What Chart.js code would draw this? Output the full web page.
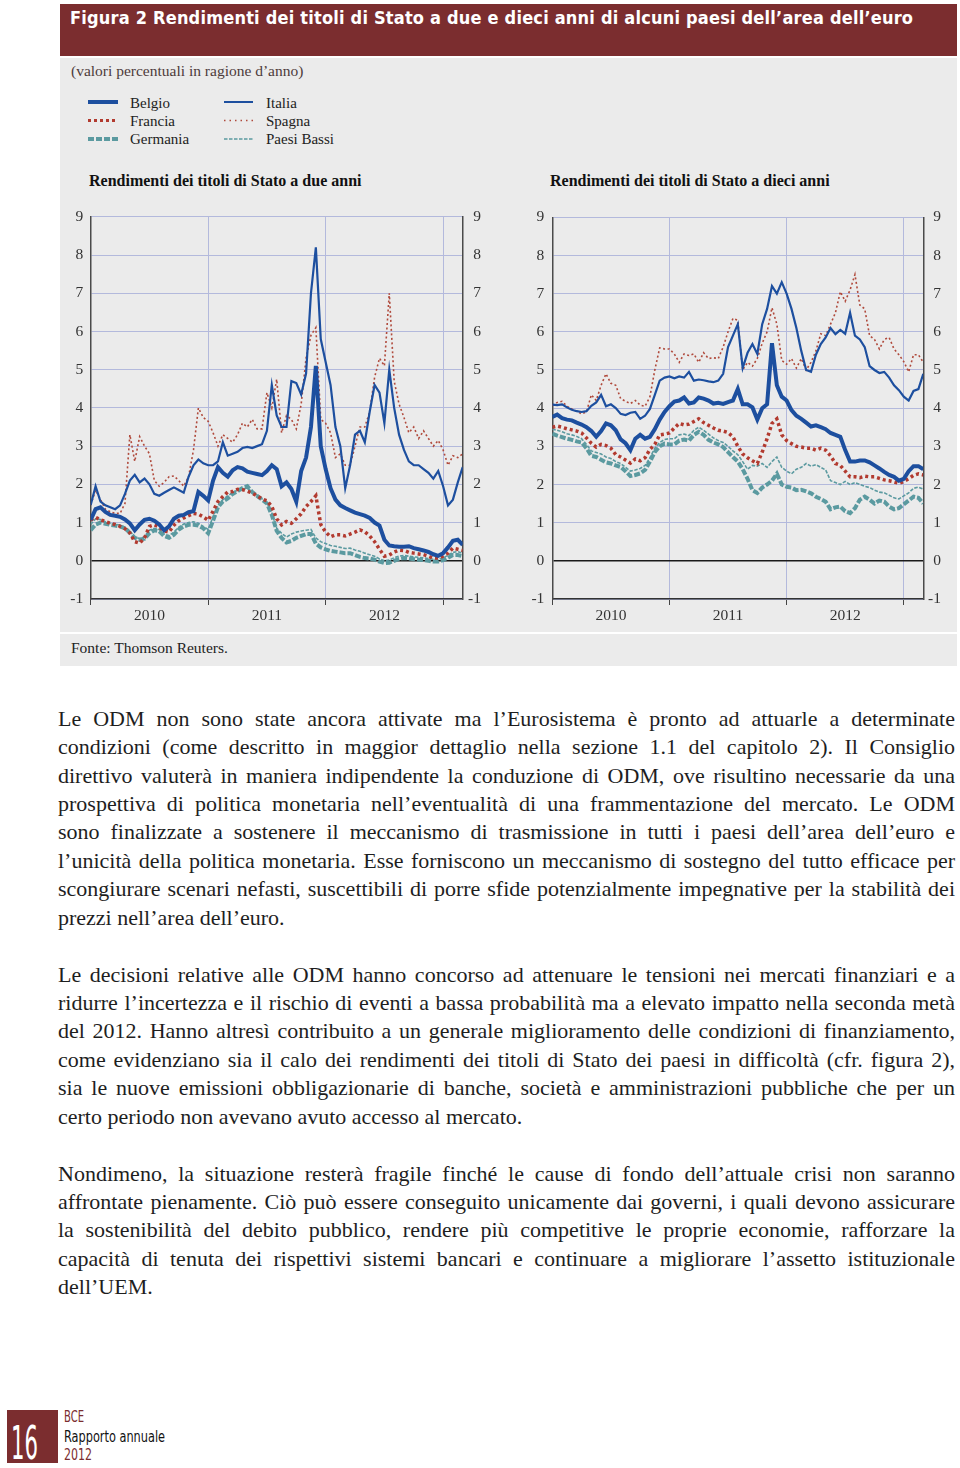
<!DOCTYPE html>
<html lang="it">
<head>
<meta charset="utf-8">
<script src="https://cdn.jsdelivr.net/npm/chart.js@4.4.1/dist/chart.umd.min.js"></script>
<style>
  body { margin: 0; width: 960px; height: 1468px; background: #fff; position: relative; overflow: hidden;
         font-family: 'Liberation Serif', 'Times New Roman', serif; color: #222; }
  .abs { position: absolute; }
  #bar { left: 60px; top: 4px; width: 897px; height: 52px; background: #7b2d2f; }
  #title { left: 70px; top: 6px; color: #fff; font-family: 'DejaVu Sans Condensed', 'DejaVu Sans', sans-serif;
           font-stretch: condensed; font-weight: bold; font-size: 18px; line-height: 24px; white-space: nowrap; }
  #panel { left: 60px; top: 58px; width: 897px; height: 608px; background: #ebebeb; }
  #sep { left: 60px; top: 632px; width: 897px; height: 2px; background: #fff; }
  #sub { left: 71px; top: 61px; font-size: 15.5px; line-height: 20px; color: #4e3b3b; white-space: nowrap; }
  .leg { font-size: 15px; line-height: 18px; white-space: nowrap; color: #222; }
  .ctitle { font-size: 16px; font-weight: bold; line-height: 20px; white-space: nowrap; color: #111; }
  #fonte { left: 71px; top: 638px; font-size: 15.5px; line-height: 20px; color: #222; white-space: nowrap; }
  #body { left: 58px; top: 704.8px; width: 897px; font-size: 22px; line-height: 28.43px; color: #1e1e1e; }
  .ln { white-space: nowrap; height: 28.43px; }
  .gap { height: 28.43px; }
  #pg { left: 7px; top: 1410px; width: 51px; height: 53px; background: #7b2d2f; overflow: hidden; }
  #pgnum { left: 4px; top: 8px; color: #fff; font-family: 'DejaVu Sans Condensed', 'DejaVu Sans', sans-serif;
           font-stretch: condensed; font-size: 46px; line-height: 50px; white-space: nowrap; transform-origin: left top; }
  .foot { font-family: 'DejaVu Sans Condensed', 'DejaVu Sans', sans-serif; font-stretch: condensed;
          font-size: 16px; line-height: 18px; white-space: nowrap; transform-origin: left top; }
  canvas { position: absolute; }
</style>
</head>
<body>
<div id="bar" class="abs"></div>
<div id="title" class="abs">Figura 2 Rendimenti dei titoli di Stato a due e dieci anni di alcuni paesi dell’area dell’euro</div>
<div id="panel" class="abs"></div>
<div id="sep" class="abs"></div>
<div id="sub" class="abs">(valori percentuali in ragione d’anno)</div>

<svg class="abs" style="left:0;top:0" width="400" height="160">
  <line x1="88" y1="102" x2="118" y2="102" stroke="#1d4f9f" stroke-width="4"/>
  <line x1="88" y1="120.5" x2="118" y2="120.5" stroke="#b23a2f" stroke-width="3" stroke-dasharray="3 3"/>
  <line x1="88" y1="139" x2="118" y2="139" stroke="#5b9aa0" stroke-width="4" stroke-dasharray="6 2"/>
  <line x1="224" y1="102" x2="253" y2="102" stroke="#1d4f9f" stroke-width="2"/>
  <line x1="224" y1="120.5" x2="253" y2="120.5" stroke="#b04a3c" stroke-width="1.5" stroke-dasharray="1.5 4"/>
  <line x1="224" y1="139" x2="253" y2="139" stroke="#5b9aa0" stroke-width="1.5" stroke-dasharray="3.5 1.5"/>
</svg>
<div class="abs leg" style="left:130px;top:94px">Belgio</div>
<div class="abs leg" style="left:130px;top:112px">Francia</div>
<div class="abs leg" style="left:130px;top:130px">Germania</div>
<div class="abs leg" style="left:266px;top:94px">Italia</div>
<div class="abs leg" style="left:266px;top:112px">Spagna</div>
<div class="abs leg" style="left:266px;top:130px">Paesi Bassi</div>

<div class="abs ctitle" style="left:89px;top:171px">Rendimenti dei titoli di Stato a due anni</div>
<div class="abs ctitle" style="left:550px;top:171px">Rendimenti dei titoli di Stato a dieci anni</div>

<canvas id="chart2y" width="440" height="430" style="left:60px;top:200px;width:440px;height:430px"></canvas>
<canvas id="chart10y" width="440" height="430" style="left:520px;top:200px;width:440px;height:430px"></canvas>

<div id="fonte" class="abs">Fonte: Thomson Reuters.</div>

<div id="body" class="abs">
  <div class="ln"><span>Le ODM non sono state ancora attivate ma l’Eurosistema è pronto ad attuarle a determinate</span></div>
  <div class="ln"><span>condizioni (come descritto in maggior dettaglio nella sezione 1.1 del capitolo 2). Il Consiglio</span></div>
  <div class="ln"><span>direttivo valuterà in maniera indipendente la conduzione di ODM, ove risultino necessarie da una</span></div>
  <div class="ln"><span>prospettiva di politica monetaria nell’eventualità di una frammentazione del mercato. Le ODM</span></div>
  <div class="ln"><span>sono finalizzate a sostenere il meccanismo di trasmissione in tutti i paesi dell’area dell’euro e</span></div>
  <div class="ln"><span>l’unicità della politica monetaria. Esse forniscono un meccanismo di sostegno del tutto efficace per</span></div>
  <div class="ln"><span>scongiurare scenari nefasti, suscettibili di porre sfide potenzialmente impegnative per la stabilità dei</span></div>
  <div class="ln last"><span>prezzi nell’area dell’euro.</span></div>
  <div class="gap"></div>
  <div class="ln"><span>Le decisioni relative alle ODM hanno concorso ad attenuare le tensioni nei mercati finanziari e a</span></div>
  <div class="ln"><span>ridurre l’incertezza e il rischio di eventi a bassa probabilità ma a elevato impatto nella seconda metà</span></div>
  <div class="ln"><span>del 2012. Hanno altresì contribuito a un generale miglioramento delle condizioni di finanziamento,</span></div>
  <div class="ln"><span>come evidenziano sia il calo dei rendimenti dei titoli di Stato dei paesi in difficoltà (cfr. figura 2),</span></div>
  <div class="ln"><span>sia le nuove emissioni obbligazionarie di banche, società e amministrazioni pubbliche che per un</span></div>
  <div class="ln last"><span>certo periodo non avevano avuto accesso al mercato.</span></div>
  <div class="gap"></div>
  <div class="ln"><span>Nondimeno, la situazione resterà fragile finché le cause di fondo dell’attuale crisi non saranno</span></div>
  <div class="ln"><span>affrontate pienamente. Ciò può essere conseguito unicamente dai governi, i quali devono assicurare</span></div>
  <div class="ln"><span>la sostenibilità del debito pubblico, rendere più competitive le proprie economie, rafforzare la</span></div>
  <div class="ln"><span>capacità di tenuta dei rispettivi sistemi bancari e continuare a migliorare l’assetto istituzionale</span></div>
  <div class="ln last"><span>dell’UEM.</span></div>
</div>

<div id="pg" class="abs"><div id="pgnum" class="abs">16</div></div>
<div class="abs foot" data-w="20" style="left:64px;top:1408px;color:#7b2d2f">BCE</div>
<div class="abs foot" data-w="101" style="left:64px;top:1428px;color:#111">Rapporto annuale</div>
<div class="abs foot" data-w="28" style="left:64px;top:1446px;color:#7b2d2f">2012</div>

<script>
// time axis: months since Jan 2010, one point every half month (Jan 2010 - Feb 2013)
const halfMonths = Array.from({ length: 77 }, (_, i) => i / 2);
const years = ['2010', '2011', '2012'];
const yearMid = [6, 18, 30];
const yearStarts = [12, 24, 36];

// 2-year yields (% per year)
const belgio2 = [1.07,1.35,1.4,1.28,1.2,1.18,1.15,1.08,0.98,0.8,
  0.95,1.07,1.1,1.05,0.95,0.8,0.9,1.1,1.18,1.2,
  1.27,1.3,1.8,1.7,1.58,2.1,2.45,2.3,2.2,2.37,
  2.45,2.42,2.33,2.3,2.27,2.24,2.35,2.5,2.4,1.95,
  2.05,1.88,1.55,2.35,2.7,3.5,5.1,3.0,2.4,1.9,
  1.6,1.45,1.38,1.32,1.26,1.22,1.18,1.12,1.0,0.92,
  0.55,0.4,0.38,0.37,0.37,0.38,0.33,0.3,0.27,0.23,
  0.17,0.13,0.2,0.35,0.52,0.55,0.42];
const francia2 = [1.07,1.14,1.07,1.03,0.98,0.95,0.9,0.84,0.73,0.5,
  0.46,0.6,0.9,0.94,0.88,0.78,0.75,0.93,1.05,1.12,
  1.18,1.24,1.22,1.15,1.06,1.3,1.55,1.68,1.8,1.81,
  1.87,1.86,1.82,1.77,1.7,1.62,1.57,1.42,1.1,0.94,
  1.03,0.98,1.1,1.23,1.42,1.55,1.7,0.95,0.75,0.63,
  0.68,0.68,0.65,0.7,0.75,0.81,0.76,0.65,0.5,0.3,
  0.12,0.15,0.23,0.28,0.27,0.22,0.2,0.18,0.16,0.12,
  0.07,0.07,0.12,0.2,0.33,0.3,0.27];
const germania2 = [0.8,0.95,1.0,0.97,0.94,0.92,0.9,0.85,0.73,0.6,
  0.55,0.58,0.72,0.8,0.77,0.65,0.6,0.68,0.82,0.9,
  0.94,0.94,0.92,0.85,0.72,1.05,1.4,1.55,1.63,1.75,
  1.82,1.9,1.95,1.8,1.7,1.6,1.5,1.2,0.78,0.6,
  0.48,0.52,0.6,0.65,0.7,0.7,0.45,0.35,0.3,0.26,
  0.24,0.22,0.2,0.2,0.15,0.1,0.07,0.06,0.03,-0.02,
  -0.06,-0.05,0.0,0.05,0.07,0.06,0.04,0.03,0.02,0.0,
  -0.02,-0.02,0.02,0.08,0.15,0.15,0.12];
const italia2 = [1.46,1.95,1.55,1.45,1.4,1.35,1.45,1.75,2.1,2.25,
  2.05,2.15,2.0,1.75,1.7,1.78,1.85,1.92,1.85,1.78,
  2.2,2.5,2.65,2.55,2.5,2.5,2.6,3.1,2.75,2.8,
  2.85,2.95,2.98,2.95,3.0,3.05,3.4,4.6,3.8,3.5,
  3.5,4.7,4.65,4.35,4.9,7.0,8.2,5.8,5.2,4.6,
  3.5,3.0,1.9,2.5,3.3,3.4,3.1,3.9,4.6,4.4,
  3.6,5.0,4.0,3.3,2.9,2.6,2.5,2.5,2.4,2.3,
  2.15,2.35,1.95,1.45,1.6,2.05,2.45];
const spagna2 = [1.46,1.85,1.6,1.35,1.28,1.24,1.24,1.5,3.3,2.6,
  3.25,3.0,2.8,2.1,1.95,2.05,2.2,2.22,2.1,1.95,
  2.2,2.9,4.0,3.75,3.65,3.35,3.0,3.3,3.2,3.1,
  3.3,3.6,3.5,3.7,3.45,3.45,4.4,4.0,4.75,3.35,
  3.8,3.7,3.45,4.1,5.3,5.9,6.1,3.7,3.6,3.35,
  2.7,2.8,2.5,2.5,3.0,3.5,3.5,3.9,4.8,5.3,
  5.1,7.0,4.7,4.1,3.75,3.35,3.5,3.2,3.4,3.2,
  3.0,3.15,2.9,2.5,2.75,2.7,2.8];
const paesiBassi2 = [0.95,1.1,1.08,1.02,0.98,0.96,0.93,0.88,0.78,0.62,
  0.58,0.63,0.8,0.85,0.82,0.7,0.66,0.75,0.88,0.96,
  1.0,1.02,0.98,0.9,0.82,1.15,1.45,1.6,1.7,1.78,
  1.85,1.88,1.9,1.8,1.72,1.62,1.52,1.25,0.85,0.72,
  0.62,0.7,0.75,0.78,0.8,0.82,0.6,0.5,0.45,0.4,
  0.38,0.35,0.32,0.33,0.28,0.25,0.2,0.16,0.12,0.05,
  0.0,0.02,0.08,0.12,0.14,0.12,0.1,0.09,0.08,0.06,
  0.04,0.04,0.08,0.14,0.22,0.24,0.2];

// 10-year yields (% per year)
const belgio10 = [3.77,3.83,3.74,3.7,3.68,3.62,3.57,3.5,3.4,3.25,
  3.4,3.6,3.55,3.42,3.18,3.08,2.9,3.2,3.3,3.2,
  3.25,3.45,3.7,3.9,4.05,4.17,4.2,4.28,4.12,4.15,
  4.28,4.25,4.2,4.12,4.14,4.11,4.16,4.2,4.5,4.1,
  4.1,4.02,3.7,4.0,4.1,5.7,4.6,4.3,4.2,3.95,
  3.8,3.72,3.62,3.52,3.55,3.5,3.45,3.35,3.3,3.25,
  2.9,2.6,2.6,2.63,2.63,2.58,2.5,2.42,2.33,2.25,
  2.2,2.1,2.15,2.35,2.48,2.48,2.4];
const francia10 = [3.5,3.53,3.5,3.46,3.43,3.4,3.35,3.22,3.08,2.98,
  3.05,3.02,2.95,2.78,2.72,2.64,2.56,2.67,2.62,2.7,
  2.92,3.05,3.3,3.32,3.35,3.48,3.6,3.56,3.58,3.65,
  3.72,3.62,3.55,3.48,3.42,3.4,3.36,3.25,3.0,2.8,
  2.7,2.62,2.55,2.85,3.2,3.6,3.72,3.3,3.15,3.07,
  3.0,2.98,2.95,2.95,2.9,2.95,2.9,2.75,2.55,2.5,
  2.35,2.2,2.2,2.18,2.22,2.2,2.2,2.16,2.12,2.1,
  2.07,2.03,2.08,2.15,2.24,2.28,2.25];
const germania10 = [3.33,3.28,3.24,3.2,3.17,3.13,3.1,2.95,2.75,2.72,
  2.65,2.58,2.55,2.5,2.46,2.35,2.22,2.25,2.29,2.38,
  2.6,2.85,3.0,3.07,3.05,3.05,3.15,3.18,3.15,3.3,
  3.38,3.3,3.17,3.1,3.05,2.98,2.85,2.72,2.6,2.4,
  2.15,1.85,1.78,1.92,2.0,2.1,2.28,2.0,1.94,1.92,
  1.85,1.86,1.82,1.77,1.68,1.62,1.55,1.35,1.4,1.42,
  1.3,1.25,1.38,1.6,1.68,1.6,1.5,1.58,1.55,1.42,
  1.35,1.38,1.48,1.58,1.68,1.65,1.5];
const italia10 = [4.09,4.08,4.1,4.02,3.96,3.92,3.9,3.92,4.06,4.15,
  4.35,4.05,4.1,4.0,3.85,3.82,3.88,3.9,3.72,3.8,
  3.98,4.35,4.72,4.8,4.83,4.78,4.83,4.8,4.95,4.72,
  4.75,4.73,4.7,4.68,4.72,4.9,5.6,5.9,6.2,5.05,
  5.45,5.68,5.42,6.2,6.6,7.2,7.0,7.3,7.0,6.6,
  6.1,5.5,5.0,4.95,5.4,5.68,5.85,6.1,5.94,6.05,
  5.95,6.5,5.9,5.8,5.6,5.1,5.0,4.92,4.95,4.8,
  4.6,4.47,4.3,4.2,4.45,4.5,4.9];
const spagna10 = [4.07,4.15,4.18,4.05,3.98,3.92,3.85,3.9,4.35,4.2,
  4.6,4.9,4.65,4.6,4.25,4.18,4.12,4.2,4.08,4.05,
  4.3,5.0,5.58,5.55,5.55,5.42,5.2,5.42,5.38,5.42,
  5.2,5.45,5.3,5.32,5.3,5.6,6.0,6.35,6.3,5.0,
  5.2,5.1,5.3,5.7,6.0,6.63,6.2,5.25,5.15,5.3,
  5.05,5.3,5.0,5.2,5.5,5.95,5.9,6.2,6.5,7.05,
  6.8,7.1,7.5,6.7,6.6,5.9,5.8,5.55,5.8,5.85,
  5.55,5.4,5.22,4.95,5.4,5.4,5.2];
const paesiBassi10 = [3.45,3.42,3.38,3.33,3.3,3.26,3.2,3.05,2.88,2.84,
  2.8,2.72,2.68,2.6,2.55,2.45,2.35,2.38,2.42,2.5,
  2.7,2.95,3.1,3.18,3.2,3.2,3.3,3.32,3.28,3.42,
  3.5,3.42,3.32,3.22,3.15,3.1,3.0,2.88,2.78,2.6,
  2.4,2.5,2.48,2.55,2.45,2.6,2.72,2.45,2.35,2.28,
  2.4,2.45,2.55,2.48,2.52,2.45,2.38,2.1,2.05,2.0,
  2.08,2.0,2.05,2.0,1.95,1.92,1.85,1.8,1.78,1.72,
  1.65,1.62,1.7,1.78,1.9,1.93,1.88];

const BLUE = '#1d4f9f', RED = '#b23a2f', RED2 = '#b04a3c', TEAL = '#5b9aa0';
const GRID = '#b3b9dc';
const FONT = { family: "'Liberation Serif', 'Times New Roman', serif", size: 15.5 };

const series = [
  { label: 'Belgio', color: BLUE, width: 4, dash: [] },
  { label: 'Francia', color: RED, width: 3.5, dash: [3, 3] },
  { label: 'Germania', color: TEAL, width: 4, dash: [6, 2] },
  { label: 'Italia', color: BLUE, width: 2.2, dash: [] },
  { label: 'Spagna', color: RED2, width: 1.6, dash: [2, 2.5] },
  { label: 'Paesi Bassi', color: TEAL, width: 1.6, dash: [3.5, 1.5] }
];

// leftW / rightW: axis box widths; padRight: space right of the right-hand labels
function makeChart(id, values, leftW, rightW, padRight, leftPad, rightPad) {
  const datasets = series.map((s, i) => ({
    label: s.label,
    data: values[i].map((v, k) => ({ x: halfMonths[k], y: v })),
    borderColor: s.color,
    borderWidth: s.width,
    borderDash: s.dash,
    borderCapStyle: 'butt',
    pointRadius: 0,
    tension: 0,
    fill: false,
    yAxisID: 'y'
  }));
  return new Chart(document.getElementById(id), {
    type: 'line',
    data: { datasets },
    options: {
      responsive: false,
      animation: false,
      devicePixelRatio: 1,
      layout: { padding: { top: 15.7, left: 0, right: padRight, bottom: 0 } },
      plugins: { legend: { display: false }, tooltip: { enabled: false } },
      scales: {
        x: {
          type: 'linear', min: 0, max: 38,
          afterBuildTicks: s => { s.ticks = [0, 6, 12, 18, 24, 30, 36, 38].map(v => ({ value: v })); },
          afterFit: s => { s.height = 31; },
          grid: {
            color: c => yearStarts.includes(c.tick && c.tick.value) ? GRID : 'rgba(0,0,0,0)',
            tickColor: c => (c.tick && (c.tick.value === 0 || yearStarts.includes(c.tick.value))) ? '#444' : 'rgba(0,0,0,0)',
            tickLength: 6,
            lineWidth: 1
          },
          border: { display: true, color: '#333', width: 1.5 },
          ticks: {
            autoSkip: false, maxRotation: 0, padding: 2, font: FONT, color: '#333',
            callback: v => { const k = yearMid.indexOf(v); return k >= 0 ? years[k] : ''; }
          }
        },
        y: {
          position: 'left', min: -1, max: 9,
          afterFit: s => { s.width = leftW; },
          grid: {
            color: c => c.tick.value === 0 ? '#1a1a1a' : GRID,
            lineWidth: c => c.tick.value === 0 ? 1.6 : 1,
            drawTicks: false
          },
          border: { display: true, color: '#4a4a4a', width: 1.5 },
          ticks: { stepSize: 1, padding: leftPad, font: FONT, color: '#333' }
        },
        y2: {
          position: 'right', min: -1, max: 9,
          afterFit: s => { s.width = rightW; },
          grid: { drawOnChartArea: false, drawTicks: false },
          border: { display: true, color: '#4a4a4a', width: 1.5 },
          ticks: { stepSize: 1, padding: rightPad, crossAlign: 'far', font: FONT, color: '#333' }
        }
      }
    }
  });
}

makeChart('chart2y', [belgio2, francia2, germania2, italia2, spagna2, paesiBassi2], 30.7, 18.3, 19, 7.5, 5);
makeChart('chart10y', [belgio10, francia10, germania10, italia10, spagna10, paesiBassi10], 32.3, 17.7, 19, 8, 5);

// justify body lines to the column width
document.querySelectorAll('#body .ln').forEach(el => {
  if (el.classList.contains('last')) return;
  const span = el.firstElementChild;
  const w = span.getBoundingClientRect().width;
  const n = (span.textContent.match(/ /g) || []).length;
  if (n) span.style.wordSpacing = ((897 - w) / n) + 'px';
});

// title spread across the bar
const title = document.getElementById('title');
const tw = title.getBoundingClientRect().width;
title.style.letterSpacing = ((843 - tw) / (title.textContent.length - 1)) + 'px';

// footer text widths
document.querySelectorAll('.foot').forEach(el => {
  const w = el.getBoundingClientRect().width;
  el.style.transform = 'scaleX(' + (+el.dataset.w / w) + ')';
});
const pg = document.getElementById('pgnum');
pg.style.transform = 'scaleX(' + (27 / pg.getBoundingClientRect().width) + ')';
</script>
</body>
</html>
